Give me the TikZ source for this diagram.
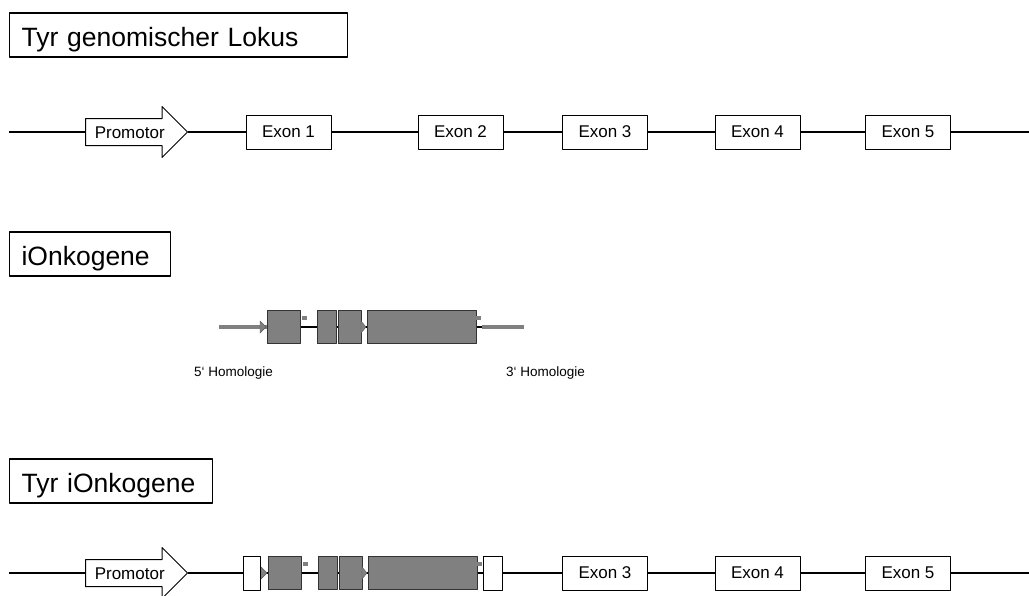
\documentclass[tikz,border=0pt]{standalone}
\usepackage{fontspec}
\setmainfont{Liberation Sans}
\usetikzlibrary{shapes.arrows,backgrounds}

\begin{document}
\begin{tikzpicture}[x=1pt, y=-1pt, line join=round]
	\tikzset{
	titel/.style={draw, line width=1.1pt, anchor=west, minimum height=44pt, inner xsep=12pt, text height=22pt, text depth=0pt, align=left, font=\fontsize{26.5}{30}\selectfont},
	exon/.style={draw, line width=1pt, fill=white, minimum width=85pt, minimum height=34pt, font=\fontsize{17}{20}\selectfont},
	prom/.style={single arrow, draw, line width=1pt, fill=white, anchor=tail, single arrow head extend=12pt, single arrow head indent=0pt, minimum height=102pt, minimum width=50pt, text height=14pt, text depth=2pt, inner ysep=5pt, inner xsep=2pt, font=\fontsize{17}{20}\selectfont},
	grau/.style={draw=black!80, line width=.6pt, fill=black!50, minimum height=33pt, inner sep=0pt},
	weiss/.style={draw, line width=1pt, fill=white, minimum height=34pt, inner sep=0pt},
	punkt/.style={fill=black!50, minimum width=5pt, minimum height=4pt, inner sep=0pt},
	spitze/.style={fill=black!50, draw=black!65, line width=.4pt},
	dna/.style={line width=1.8pt},
	linker/.style={line width=1.3pt},
	arm/.style={line width=4pt, black!50},
	hom/.style={font=\fontsize{13.5}{16}\selectfont},
	onko/.pic={
	\node[grau, minimum width=33pt, anchor=west] (-a) at (0,0) {};
	\node[grau, minimum width=19pt, anchor=west] (-b) at (50,0) {};
	\node[grau, minimum width=23pt, anchor=west] (-c) at (71,0) {};
	\node[grau, minimum width=109pt, anchor=west] (-d) at (100,0) {};
	\node[punkt] (-p) at (37.5,-9) {};
	\node[punkt] (-q) at (211,-9) {};
	\coordinate (-e) at (215,0);
	\draw[linker] (-a) -- (-b) (-b) -- (-c) (-c) -- (-d) (-d) -- (-e);
	\draw[spitze] (-7,-6) -- (-1,0) -- (-7,6) -- cycle;
	\draw[spitze] (94,-6) -- (99,0) -- (94,6) -- cycle;
	}}
	\useasboundingbox (0,0) rectangle (1029,595);

	% Tyr genomischer Lokus
	\node[titel, text width=314pt] (t1) at (9,35) {Tyr genomischer Lokus};
	\coordinate (a1) at (9,132);
	\coordinate (b1) at (1029,132);
	\node[prom] (p1) at (85,132) {Promotor};
	\foreach \n/\x in {1/288.5,2/460.5,3/605,4/757.5,5/908}{
	\node[exon] (e\n) at (\x,132) {Exon \n};
	}
	\draw[dna] (a1) -- (p1.tail) (p1.tip) -- (e1) (e5) -- (b1);
	\foreach \n/\m in {1/2,2/3,3/4,4/5}{
	\draw[dna] (e\n) -- (e\m);
	}

	% iOnkogene
	\node[titel, text width=137pt] (t2) at (9,254) {iOnkogene};
	\coordinate (h5) at (219,327);
	\coordinate (h3) at (524,327);
	\pic (o2) at (267,327) {onko};
	\begin{scope}[on background layer]
	\draw[arm] (h5) -- (o2-a.west);
	\end{scope}
	\draw[arm] (o2-e) -- (h3);
	\node[hom] (l5) at (233.5,373) {5‘ Homologie};
	\node[hom] (l3) at (545.5,373) {3‘ Homologie};

	% Tyr iOnkogene
	\node[titel, text width=179pt] (t3) at (9,481) {Tyr iOnkogene};
	\coordinate (a3) at (9,573);
	\coordinate (b3) at (1029,573);
	\node[prom] (p3) at (85,573) {Promotor};
	\pic (o3) at (268,573) {onko};
	\node[weiss, minimum width=17pt, anchor=east] (w1) at (261,573) {};
	\node[weiss, minimum width=19pt, anchor=west] (w2) at (483,573) {};
	\foreach \n/\x in {3/605,4/757.5,5/908}{
	\node[exon] (f\n) at (\x,573) {Exon \n};
	}
	\begin{scope}[on background layer]
	\draw[dna] (a3) -- (p3.tail) (p3.tip) -- (w1) (w1) -- (o3-a.west);
	\draw[dna] (o3-e) -- (w2) (w2) -- (f3) (f3) -- (f4) (f4) -- (f5) (f5) -- (b3);
	\end{scope}
\end{tikzpicture}
\end{document}
